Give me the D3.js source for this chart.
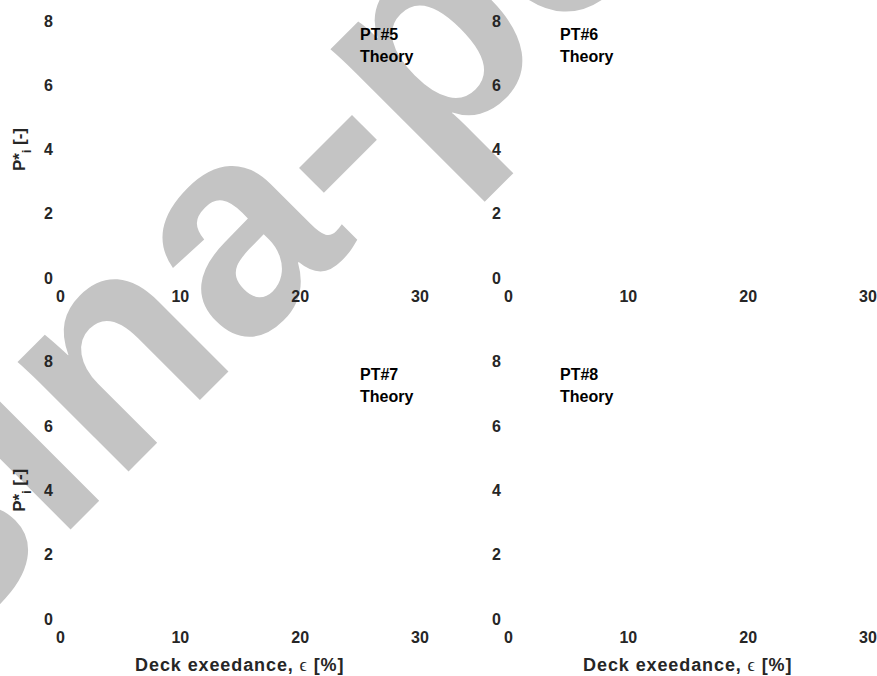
<!DOCTYPE html>
<html>
<head>
<meta charset="utf-8">
<script src="https://cdn.jsdelivr.net/npm/d3@7"></script>
<style>
  html, body { margin: 0; padding: 0; background: #fff; }
  svg { display: block; }
</style>
</head>
<body>
<svg id="chart" width="877" height="676"></svg>
<script>
// Panel names (legend headers) and the legend entry shown in each panel
const panelNames = ["PT#5", "PT#6", "PT#7", "PT#8"];
const legendEntries = ["Theory"];

// Axis domains and tick values
const xDomain = [0, 30];
const yDomain = [0, 8];
const xTickValues = [0, 10, 20, 30];
const yTickValues = [0, 2, 4, 6, 8];

// Axis titles
const xTitle = "Deck exeedance, ";
const xTitleSymbol = "\u03F5";
const xTitleUnit = " [%]";
const yTitleMain = "P*";
const yTitleSub = "i";
const yTitleUnit = " [-]";

// Background mark text
const markText = "sina-pe";

// ---- layout ----
const W = 877, H = 676;
const cols = [{x0: 60, x1: 419.5}, {x0: 508, x1: 867.5}];
const rows = [{y0: 278, y1: 21}, {y0: 619, y1: 361.5}];
const legendOffset = [{dx: 300}, {dx: 52}];
const tickFont = "'Liberation Sans', Arial, Helvetica, sans-serif";
const tickColor = "#262626";

const svg = d3.select("#chart");
svg.append("rect").attr("width", W).attr("height", H).attr("fill", "#fff");

// large grey background lettering, rotated along the diagonal
svg.append("text")
  .attr("transform", "translate(-60,660) rotate(-45)")
  .attr("font-family", tickFont)
  .attr("font-weight", "bold")
  .attr("font-size", 295)
  .attr("fill", "#c4c4c4")
  .text(markText);

panelNames.forEach((name, i) => {
  const c = cols[i % 2], r = rows[Math.floor(i / 2)];
  const x = d3.scaleLinear().domain(xDomain).range([c.x0, c.x1]);
  const y = d3.scaleLinear().domain(yDomain).range([r.y0, r.y1]);
  const g = svg.append("g");

  // x axis (labels only)
  const gx = g.append("g")
    .attr("transform", `translate(0,${r.y0})`)
    .call(d3.axisBottom(x).tickValues(xTickValues).tickSize(0).tickPadding(13));
  gx.select(".domain").remove();
  gx.selectAll("text")
    .attr("font-family", tickFont).attr("font-weight", "bold")
    .attr("font-size", 16).attr("fill", tickColor);

  // y axis (labels only)
  const gy = g.append("g")
    .attr("transform", `translate(${c.x0},0)`)
    .call(d3.axisLeft(y).tickValues(yTickValues).tickSize(0).tickPadding(7));
  gy.select(".domain").remove();
  gy.selectAll("text")
    .attr("font-family", tickFont).attr("font-weight", "bold")
    .attr("font-size", 16).attr("fill", tickColor);

  // legend text block
  const lg = g.append("g")
    .attr("transform", `translate(${c.x0 + legendOffset[i % 2].dx},${r.y1 + 18.5})`);
  [name].concat(legendEntries).forEach((t, k) => {
    lg.append("text")
      .attr("y", k * 22)
      .attr("font-family", tickFont).attr("font-weight", "bold")
      .attr("font-size", 16).attr("fill", "#000")
      .text(t);
  });

  // y title on the left column
  if (i % 2 === 0) {
    const yt = g.append("text")
      .attr("transform", `translate(25,${(r.y0 + r.y1) / 2}) rotate(-90)`)
      .attr("text-anchor", "middle")
      .attr("font-family", tickFont).attr("font-weight", "bold")
      .attr("font-size", 17).attr("fill", tickColor);
    yt.append("tspan").text(yTitleMain);
    yt.append("tspan").attr("font-size", 12).attr("dy", 6).text(yTitleSub);
    yt.append("tspan").attr("dy", -6).text(yTitleUnit);
  }

  // x title on the bottom row
  if (Math.floor(i / 2) === 1) {
    const xt = g.append("text")
      .attr("x", (c.x0 + c.x1) / 2)
      .attr("y", 670.5)
      .attr("text-anchor", "middle")
      .attr("font-family", tickFont).attr("font-weight", "bold")
      .attr("font-size", 18).attr("letter-spacing", 0.9)
      .attr("fill", tickColor);
    xt.append("tspan").text(xTitle);
    xt.append("tspan")
      .attr("font-family", "'Liberation Serif', 'DejaVu Serif', serif")
      .attr("font-weight", "normal").text(xTitleSymbol);
    xt.append("tspan").text(xTitleUnit);
  }
});
</script>
</body>
</html>
